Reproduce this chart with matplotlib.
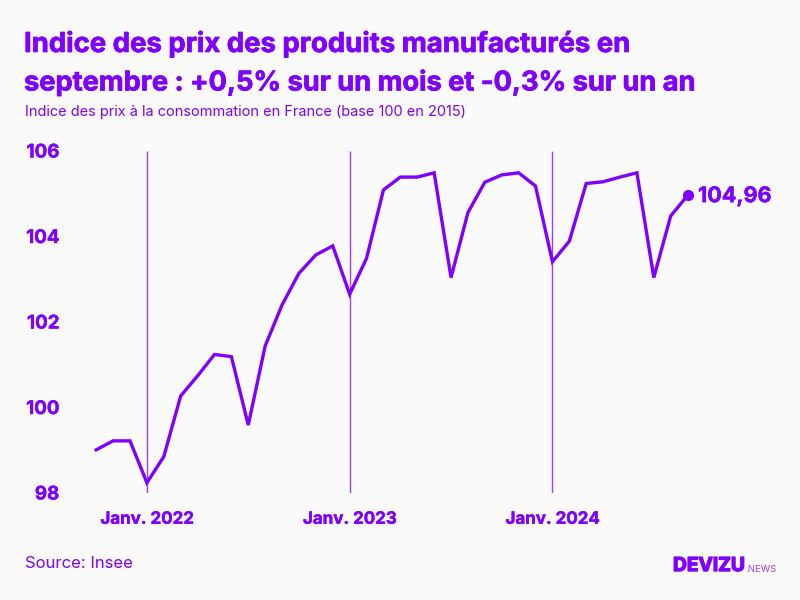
import matplotlib
matplotlib.use("Agg")
import matplotlib.pyplot as plt
import matplotlib.patheffects as pe

VIOLET = "#7F00FF"
BG = "#FAFAFA"

plt.rcParams["font.family"] = ["Inter", "DejaVu Sans"]

# mois depuis oct. 2021
values = [99.01, 99.22, 99.22, 98.24, 98.85, 100.27, 100.74, 101.24, 101.19, 99.59,
          101.44, 102.40, 103.14, 103.57, 103.78, 102.65, 103.49, 105.09, 105.39, 105.39,
          105.49, 103.04, 104.56, 105.27, 105.44, 105.49, 105.18, 103.41, 103.89, 105.24,
          105.28, 105.39, 105.49, 103.04, 104.48, 104.96]
months = list(range(len(values)))
year_ticks = [3, 15, 27]
year_labels = ["Janv. 2022", "Janv. 2023", "Janv. 2024"]
y_ticks = [98, 100, 102, 104, 106]
last_label = "104,96"

# texte plus gras que le Bold disponible
heavy = [pe.withStroke(linewidth=0.5, foreground=VIOLET)]
heavy_small = [pe.withStroke(linewidth=0.3, foreground=VIOLET)]

fig = plt.figure(figsize=(8, 6), dpi=100, facecolor=BG)
ax = fig.add_axes([96.2 / 800, 1 - 493 / 600, (687.6 - 96.2) / 800, (493 - 151) / 600])
ax.set_facecolor("none")
ax.set_xlim(0, 35)
ax.set_ylim(98, 106)
for sp in ax.spines.values():
    sp.set_visible(False)

ax.vlines(year_ticks, 98, 106, color=VIOLET, lw=1.0, alpha=0.75, zorder=1)
ax.plot(months, values, color=VIOLET, lw=2.4, solid_joinstyle="miter", clip_on=False, zorder=2)
ax.plot(months[-1], values[-1], "o", color=VIOLET, ms=7, clip_on=False, zorder=3)
ax.annotate(last_label, (months[-1], values[-1]), xytext=(7.5, -0.5), textcoords="offset points",
            color=VIOLET, fontsize=15.5, fontweight="bold", va="center", ha="left", path_effects=heavy_small)

ax.set_xticks(year_ticks, year_labels)
ax.set_yticks(y_ticks, [str(v) for v in y_ticks])
ax.tick_params(axis="x", length=0, pad=13.5, labelsize=12.2, labelcolor=VIOLET)
ax.tick_params(axis="y", length=0, pad=26.5, labelsize=13.5, labelcolor=VIOLET)
for lab in ax.get_xticklabels() + ax.get_yticklabels():
    lab.set_fontweight("bold")
    lab.set_path_effects(heavy_small)

fig.text(24 / 800, 1 - 44.5 / 600, "Indice des prix des produits manufacturés en",
         color=VIOLET, fontsize=19.8, fontweight="bold", va="center", path_effects=heavy)
fig.text(24 / 800, 1 - 83 / 600, "septembre : +0,5% sur un mois et -0,3% sur un an",
         color=VIOLET, fontsize=19.6, fontweight="bold", va="center", path_effects=heavy)
fig.text(25 / 800, 1 - 112 / 600, "Indice des prix à la consommation en France (base 100 en 2015)",
         color=VIOLET, fontsize=10.45, va="center")
fig.text(25 / 800, 1 - 564 / 600, "Source: Insee", color=VIOLET, fontsize=12, va="center")
fig.text(673 / 800, 1 - 566 / 600, "DEVIZU", color=VIOLET, fontsize=13.8, fontweight="bold", va="center",
         path_effects=[pe.withStroke(linewidth=1.0, foreground=VIOLET)])
fig.text(745 / 800, 1 - 570 / 600, ".NEWS", color=VIOLET, fontsize=6.9, alpha=0.75, va="center")

fig.savefig("out.png", dpi=100, facecolor=BG)
